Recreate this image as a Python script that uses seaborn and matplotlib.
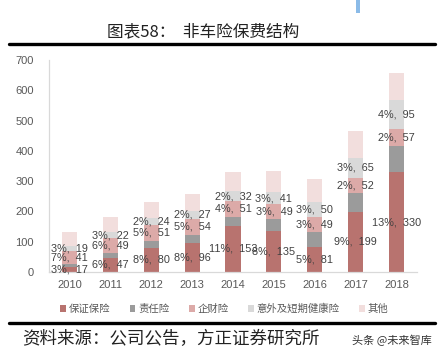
import matplotlib
matplotlib.use("Agg")
import matplotlib.pyplot as plt
from matplotlib.lines import Line2D
from matplotlib.patches import Patch, Rectangle
import seaborn as sns
import pandas as pd
import numpy as np

years = ["2010", "2011", "2012", "2013", "2014", "2015", "2016", "2017", "2018"]
series_names = ["保证保险", "责任险", "企财险", "意外及短期健康险", "其他"]
colors = ["#b8736f", "#9b9b9b", "#dcaaa8", "#d9d9d9", "#f2dedd"]

# values (亿元)
guarantee = [17, 47, 80, 96, 153, 135, 81, 199, 330]
liability = [10, 15, 24, 26, 30, 39, 50, 61, 86]
property_ins = [41, 49, 51, 54, 51, 49, 49, 52, 57]
accident = [19, 22, 24, 27, 32, 41, 50, 65, 95]
other = [44, 48, 52, 53, 65, 70, 76, 87, 88]

# market share labels printed next to the values
guarantee_pct = ["3%", "6%", "8%", "8%", "11%", "8%", "5%", "9%", "13%"]
property_pct = ["7%", "6%", "5%", "5%", "4%", "3%", "3%", "2%", "2%"]
accident_pct = ["3%", "3%", "2%", "2%", "2%", "3%", "3%", "3%", "4%"]

sns.set_style("white")
plt.rcParams["font.family"] = ["Liberation Sans", "Noto Sans CJK SC", "DejaVu Sans"]
cjk = ["Noto Sans CJK SC", "DejaVu Sans"]

df = pd.DataFrame({"year": years, "保证保险": guarantee, "责任险": liability,
                   "企财险": property_ins, "意外及短期健康险": accident, "其他": other})
cum = df[series_names].cumsum(axis=1)

fig = plt.figure(figsize=(4.44, 3.59), dpi=100)
ax = fig.add_axes([49 / 444, 1 - 272 / 359, 368 / 444, 212 / 359])

# stacked bars: draw cumulative totals from the top down
for name, col in zip(series_names[::-1], colors[::-1]):
    sns.barplot(x=df["year"], y=cum[name], color=col, width=0.37,
                saturation=1, linewidth=0, ax=ax, errorbar=None)

ax.set_ylim(0, 700)
ax.set_xlim(-0.5, 8.5)
ax.set_yticks(range(0, 701, 100))
ax.set_xlabel("")
ax.set_ylabel("")
for s in ["top", "right"]:
    ax.spines[s].set_visible(False)
for s in ["left", "bottom"]:
    ax.spines[s].set_color("#d9d9d9")
    ax.spines[s].set_linewidth(0.9)
ax.tick_params(axis="y", length=3, color="#d9d9d9", labelsize=8, labelcolor="#595959", pad=8)
ax.tick_params(axis="x", length=0, labelsize=8, labelcolor="#595959", pad=6)

# value labels centered in the labelled segments
segs = [(guarantee, guarantee_pct, np.zeros(len(years))),
        (property_ins, property_pct, cum["责任险"].values),
        (accident, accident_pct, cum["企财险"].values)]
for vals, pcts, base in segs:
    for i, (v, p) in enumerate(zip(vals, pcts)):
        ax.text(i, base[i] + v / 2, f"{p},  {v}", ha="center", va="center",
                fontsize=7.8, color="#404040")

handles = [Patch(facecolor=c, edgecolor="none") for c in colors]
fig.legend(handles, series_names, loc="center", bbox_to_anchor=(0.505, 1 - 309 / 359),
           ncol=5, frameon=False, handlelength=0.55, handleheight=0.55,
           handletextpad=0.25, columnspacing=1.9, labelcolor="#595959",
           prop={"family": cjk, "size": 7.5})

fig.text(203 / 444, 1 - 32 / 359, "图表58：  非车险保费结构", ha="center", va="center",
         fontsize=12, family=cjk, color="#222222")
fig.add_artist(Line2D([9 / 444, 435 / 444], [1 - 44 / 359] * 2, lw=2.4, color="black"))
fig.add_artist(Line2D([9 / 444, 435 / 444], [1 - 323 / 359] * 2, lw=2.4, color="black"))
fig.text(22 / 444, 1 - 339 / 359, "资料来源：公司公告，方正证券研究所", ha="left", va="center",
         fontsize=12.6, family=cjk, color="#222222")
fig.text(432 / 444, 1 - 340 / 359, "头条 @未来智库", ha="right", va="center",
         fontsize=8, family=cjk, color="#333333")
fig.add_artist(Rectangle((356 / 444, 1 - 13 / 359), 4 / 444, 13 / 359,
                         transform=fig.transFigure, color="#8bbbe8", lw=0))

fig.savefig("out.png", dpi=100)
